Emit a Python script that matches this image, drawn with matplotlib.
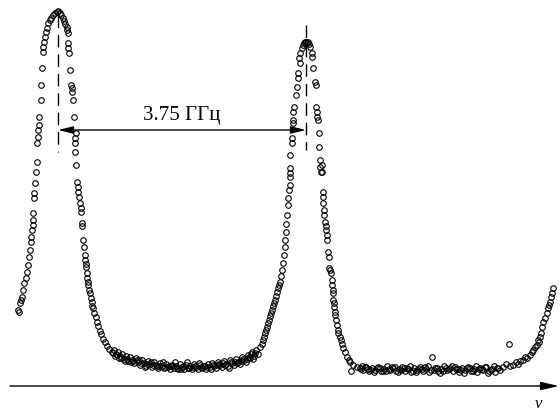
import matplotlib
matplotlib.use('Agg')
from matplotlib import pyplot as plt

# scan channel (x) and signal (y)
chan = [
    # first peak, left side
    18, 19, 20, 21, 22, 23, 24, 26, 27, 28, 29, 30, 31, 31, 32, 33, 33, 33, 34, 34,
    35, 36, 37, 37, 38, 38, 39, 39, 41, 41, 42, 43, 43, 44, 45, 46, 47, 48, 50, 51,
    53, 55, 57, 58,
    # first peak, right side
    60, 61, 63, 64, 65, 67, 67, 68, 68, 68, 69, 70, 71, 72, 72, 73, 74, 76, 75, 75,
    75, 76, 77, 78, 78, 79, 80, 81, 81, 82, 82, 83, 84, 85, 85, 86, 86, 87, 87, 88,
    88, 89, 90, 91, 92, 92, 93, 94, 96, 97, 98, 100, 101, 103, 105, 107, 109, 112,
    # floor between the peaks
    114, 116, 118, 120, 122, 124, 126, 128, 130, 132, 134, 136, 138, 140, 142, 144,
    146, 148, 150, 152, 154, 156, 158, 160, 162, 164, 166, 168, 170, 172, 174, 176,
    178, 180, 182, 184, 186, 188, 190, 192, 194, 196, 198, 200, 202, 204, 206, 208,
    210, 212, 214, 216, 218, 220, 222, 224, 226, 228, 230, 232, 234, 236, 238, 240,
    242, 244, 246, 248, 250, 252, 254, 256, 258, 260,
    115, 119, 125, 131, 139, 145, 151, 157, 163, 169, 175, 181, 187, 193, 199, 205,
    211, 217, 223, 229, 235, 241, 247, 253, 251,
    113, 117, 121, 127, 133, 137, 141, 147, 153, 159, 165, 171, 177, 183, 189, 195,
    201, 207, 213, 219, 225, 231, 237, 243, 249, 255,
    # second peak, left side
    262, 263, 264, 265, 266, 267, 268, 269, 270, 271, 272, 273, 274, 275, 276, 277,
    278, 279, 280, 281, 282, 283, 284, 285, 285, 286, 286, 287, 288, 288, 289, 290,
    290, 290, 290, 290, 292, 292, 293, 293, 293, 294, 296, 297, 298, 298, 300, 299,
    300, 302, 303, 304, 305, 306,
    # second peak, right side
    307, 308, 309, 310, 312, 312, 313, 315, 316, 316, 317, 317, 318, 319, 319, 320,
    320, 321, 322, 322, 323, 323, 323, 324, 324, 325, 326, 326, 327, 327, 328, 329,
    329, 330, 331, 332, 332, 333, 333, 333, 334, 334, 335, 335, 336, 337, 338, 338,
    340, 341, 342, 343, 345, 347, 349, 350, 353, 357, 351,
    # floor after the second peak
    360, 363, 366, 369, 372, 375, 378, 381, 384, 387, 390, 393, 396, 399, 402, 405,
    408, 411, 414, 417, 420, 423, 426, 429, 432, 435, 438, 441, 444, 447, 450, 453,
    456, 459, 462, 465, 468, 471, 474, 477, 480, 483, 486, 489, 492, 495, 498, 500,
    362, 368, 374, 380, 386, 392, 398, 404, 410, 416, 422, 428, 434, 440, 446, 452,
    458, 464, 470, 476, 482, 488, 494,
    361, 365, 371, 377, 383, 389, 395, 401, 407, 413, 419, 425, 431, 437, 443, 449,
    455, 461, 467, 473, 479, 485, 491, 497,
    # rise of the next peak
    503, 506, 509, 510, 513, 516, 518, 520, 523, 525, 527, 530, 532, 533, 535, 537,
    538, 539, 540, 541, 542, 543, 545, 547, 548, 549, 550, 551, 552, 553,
]
signal = [
    62, 60, 69, 72, 75, 82, 89, 94, 100, 107, 115, 122, 130, 135, 142, 147, 152, 159, 174, 179,
    189, 200, 210, 229, 235, 242, 247, 255, 272, 287, 304, 320, 325, 330, 335, 340, 344, 349, 352, 354,
    357, 359, 360, 361,
    359, 357, 354, 351, 348, 345, 342, 339, 329, 324, 319, 302, 287, 284, 280, 272, 255, 239, 234, 229,
    220, 207, 190, 185, 180, 175, 169, 164, 160, 149, 146, 132, 125, 117, 112, 108, 105, 99, 94, 90,
    87, 82, 79, 74, 70, 66, 64, 59, 55, 50, 46, 41, 38, 33, 30, 26, 23, 20,
    22, 18, 20, 16, 18, 13, 16, 11, 15, 12, 9, 14, 10, 7, 12, 9,
    6, 11, 8, 5, 10, 7, 4, 9, 6, 4, 8, 5, 3, 7, 4, 6,
    3, 8, 5, 3, 7, 4, 6, 3, 8, 5, 3, 7, 4, 6, 3, 8,
    5, 9, 6, 4, 10, 7, 5, 11, 8, 6, 12, 9, 7, 13, 10, 8,
    15, 12, 10, 17, 14, 20, 16, 22, 18, 25,
    16, 14, 11, 10, 12, 5, 10, 6, 10, 6, 10, 3, 10, 5, 9, 6,
    3, 7, 9, 4, 10, 11, 13, 13, 18,
    19, 17, 14, 13, 11, 12, 9, 8, 7, 6, 5, 6, 4, 6, 4, 6,
    5, 5, 7, 8, 7, 10, 9, 13, 15, 19,
    28, 32, 35, 39, 42, 45, 49, 52, 56, 59, 62, 66, 69, 72, 76, 80,
    84, 87, 90, 96, 102, 109, 117, 125, 132, 140, 148, 157, 167, 174, 182, 187,
    195, 204, 199, 217, 229, 234, 249, 252, 260, 265, 277, 285, 294, 299, 309, 314,
    319, 324, 327, 329, 330, 330,
    329, 330, 328, 325, 319, 315, 304, 290, 287, 265, 260, 255, 252, 239, 225, 212,
    205, 200, 207, 200, 180, 175, 169, 162, 157, 150, 146, 142, 137, 132, 120, 115,
    104, 102, 99, 92, 87, 82, 79, 72, 69, 65, 60, 57, 52, 47, 42, 39,
    35, 32, 28, 24, 20, 15, 12, 10, 7, 5, 1,
    4, 2, 5, 1, 4, 2, 5, 1, 3, 6, 2, 4, 1, 3, 5, 1,
    3, 0, 4, 2, 5, 1, 3, 0, 15, 4, 1, 3, 6, 2, 4, 1,
    3, 0, 4, 2, 5, 1, 3, 0, 4, 2, 5, 1, 3, 0, 4, 2,
    6, 3, 0, 4, 1, 5, 0, 4, 6, 0, 3, 6, 2, -1, 4, 6,
    3, -1, 4, 6, 3, -1, 6,
    3, 5, 2, 4, 1, 3, 5, 2, 4, 1, 3, 5, 2, 4, 1, 3,
    5, 2, 4, 1, 3, 5, 2, 4,
    5, 8, 28, 6, 7, 10, 8, 11, 12, 15, 14, 17, 20, 22, 25, 27,
    32, 30, 35, 39, 45, 50, 54, 59, 64, 67, 70, 75, 79, 84,
]

peaks = [58, 306]
spacing_label = '3.75 ГГц'

fig = plt.figure(figsize=(5.6, 4.12), dpi=100)
ax = fig.add_axes([0, 0, 1, 1])
ax.set_xlim(0, 560)
ax.set_ylim(-40, 372)
ax.axis('off')

ax.plot(chan, signal, 'o', ls='none', ms=4.0, mfc='none', mec='black', mew=0.8)

# dashed marks at the peak tops
ax.plot([peaks[0], peaks[0]], [357, 220], color='black', lw=1.0, dashes=(9, 5))
ax.plot([peaks[1], peaks[1]], [347, 222], color='black', lw=1.0, dashes=(9, 5))

# spacing arrow
ax.annotate('', xy=(peaks[0], 242), xytext=(peaks[1], 242),
            arrowprops=dict(arrowstyle='<|-|>,head_length=0.9,head_width=0.22',
                            color='black', lw=1.0, shrinkA=0, shrinkB=0))
ax.text((peaks[0] + peaks[1]) / 2, 257, spacing_label, ha='center', va='center',
        fontsize=15, family='Liberation Serif')

# frequency axis
ax.annotate('', xy=(559, -14), xytext=(10, -14),
            arrowprops=dict(arrowstyle='-|>,head_length=1.1,head_width=0.25',
                            color='black', lw=1.0, shrinkA=0, shrinkB=0))
ax.text(538, -32, 'ν', ha='center', va='center', fontsize=12,
        family='Liberation Serif', style='italic')

plt.savefig('out.png', dpi=100)
